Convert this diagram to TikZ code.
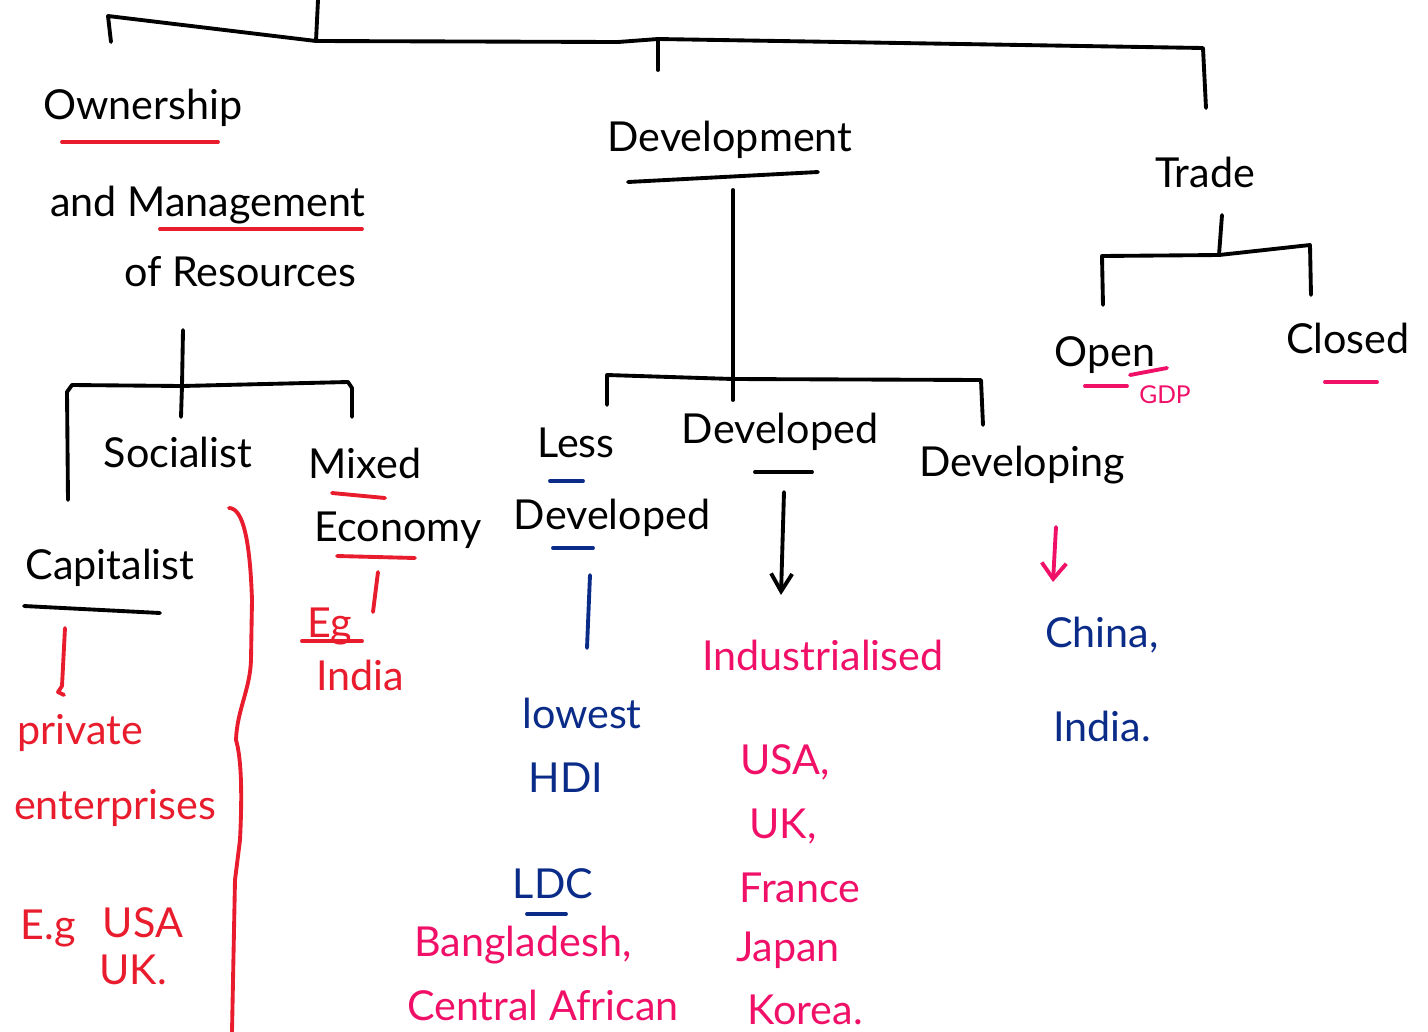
\documentclass[tikz,border=0pt]{standalone}
\usepackage{fontspec}
\setmainfont{Lato}
\usetikzlibrary{arrows.meta}
\definecolor{myred}{RGB}{232,28,44}
\definecolor{mypink}{RGB}{240,16,104}
\definecolor{myblue}{RGB}{10,44,136}

\begin{document}
\begin{tikzpicture}[x=0.02cm,y=-0.02cm,
  pen/.style={line width=2.2pt,line cap=round,line join=round},
  word/.style={font=\fontsize{23.5}{26}\selectfont,inner sep=0pt},
  tiny/.style={font=\fontsize{14}{16}\selectfont,inner sep=0pt}]
  \useasboundingbox (0,0) rectangle (1428,1032);

  % black headings
  \node[word] (own) at (143,108) {Ownership};
  \node[word] (mgmt) at (208,205) {and Management};
  \node[word] (res) at (240,272) {of Resources};
  \node[word] (dev) at (730,140) {Development};
  \node[word] (trade) at (1205,172) {Trade};
  \node[word] (open) at (1105,355) {Open};
  \node[word] (closed) at (1348,338) {Closed};
  \node[word] (soc) at (178,452) {Socialist};
  \node[word] (mixed) at (365,463) {Mixed};
  \node[word] (econ) at (398,530) {Economy};
  \node[word] (cap) at (110,568) {Capitalist};
  \node[word] (less) at (576,443) {Less};
  \node[word] (lessdev) at (612,518) {Developed};
  \node[word] (devd) at (780,432) {Developed};
  \node[word] (devg) at (1022,465) {Developing};

  % red notes
  \node[word, myred] (eg) at (330,626) {Eg};
  \node[word, myred] (india) at (360,675) {India};
  \node[word, myred] (priv) at (80,733) {private};
  \node[word, myred] (ent) at (115,808) {enterprises};
  \node[word, myred] (eg2) at (48,928) {E.g};
  \node[word, myred] (usa) at (143,923) {USA};
  \node[word, myred] (uk) at (133,970) {UK.};

  % pink notes
  \node[word, mypink] (ind) at (823,655) {Industrialised};
  \node[word, mypink] (bang) at (523,945) {Bangladesh,};
  \node[word, mypink] (car) at (543,1005) {Central African};
  \node[word, mypink] (usa2) at (785,762) {USA,};
  \node[word, mypink] (uk2) at (783,826) {UK,};
  \node[word, mypink] (fr) at (800,888) {France};
  \node[word, mypink] (jp) at (788,950) {Japan};
  \node[word, mypink] (kor) at (805,1010) {Korea.};
  \node[tiny, mypink] (gdp) at (1165,395) {GDP};

  % blue notes
  \node[word, myblue] (low) at (582,713) {lowest};
  \node[word, myblue] (hdi) at (566,778) {HDI};
  \node[word, myblue] (ldc) at (553,884) {LDC};
  \node[word, myblue] (china) at (1102,635) {China,};
  \node[word, myblue] (india2) at (1102,726) {India.};

  % tree
  \coordinate (root) at (318,0);
  \coordinate (j0) at (316,41);
  \coordinate (jdev) at (658,39);
  \draw[pen] (root) -- (j0);
  \draw[pen] (111,42) -- (108,16) -- (j0) -- (618,42) -- (jdev) -- (1203,48) -- (1206,108);
  \draw[pen] (jdev) -- (658,70);

  \coordinate (jown) at (182,386);
  \draw[pen] (183,330) -- (jown) -- (181,417);
  \draw[pen] (68,500) -- (67,392) -- (72,385) -- (jown) -- (348,382) -- (352,388) -- (352,417);

  \coordinate (jd) at (733,379);
  \draw[pen] (733,190) -- (jd) -- (733,400);
  \draw[pen] (607,405) -- (607,375) -- (jd) -- (981,380) -- (983,425);

  \coordinate (jt) at (1219,255);
  \draw[pen] (1222,215) -- (jt);
  \draw[pen] (1103,305) -- (1102,256) -- (jt) -- (1310,245) -- (1311,295);

  % underlines
  \draw[pen, myred] (62,142) -- (218,142);
  \draw[pen, myred] (160,229) -- (362,229);
  \draw[pen, myred] (332,493) -- (385,498);
  \draw[pen, myred] (337,556) -- (415,558);
  \draw[pen, myred] (302,641) -- (362,641);
  \draw[pen] (628,182) -- (818,172);
  \draw[pen] (24,606) -- (160,613);
  \draw[pen] (755,472) -- (812,472);
  \draw[pen, myblue] (550,481) -- (583,481);
  \draw[pen, myblue] (553,548) -- (593,548);
  \draw[pen, myblue] (527,914) -- (566,914);
  \draw[pen, mypink] (1085,386) -- (1127,386);
  \draw[pen, mypink] (1130,375) -- (1167,368);
  \draw[pen, mypink] (1325,382) -- (1377,382);

  % links to notes
  \draw[pen, myred] (65,628) -- (62,686) -- (58,692) -- (64,695);
  \draw[pen, myred] (378,572) -- (373,612);
  \draw[pen, myblue] (590,575) -- (587,648);
  \draw[pen, -{Straight Barb[length=10pt,width=12pt]}] (784,492) -- (781,595);
  \draw[pen, mypink, -{Straight Barb[length=9pt,width=14pt]}] (1056,527) -- (1053,582);
  \draw[pen, myred] (229,508) .. controls (243,508) and (250,540) .. (252,600)
    -- (251,660) .. controls (250,690) and (237,710) .. (236,740)
    .. controls (242,760) and (242,800) .. (240,840) -- (235,880) -- (232,1032);
\end{tikzpicture}
\end{document}
